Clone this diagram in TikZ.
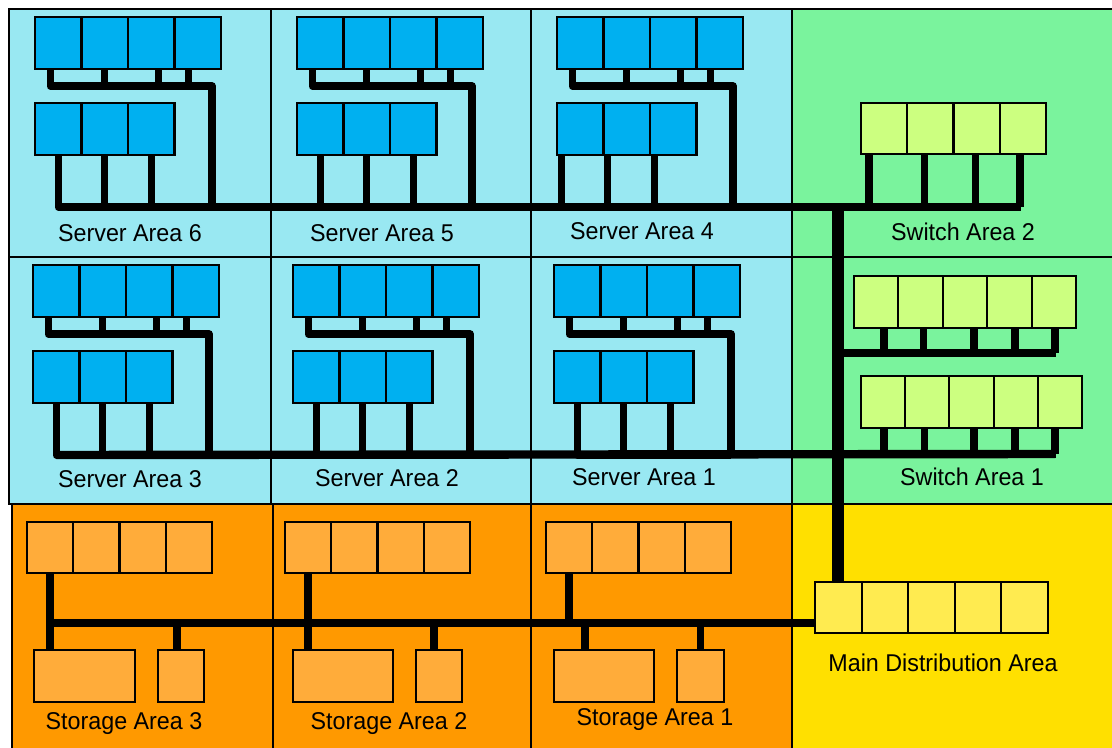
\documentclass[tikz,border=0pt]{standalone}
\usepackage{fontspec}
\setmainfont{Liberation Sans}[FakeStretch=0.96]
\usetikzlibrary{calc}
\definecolor{srvbg}{RGB}{153,232,242}
\definecolor{srvbox}{RGB}{0,176,240}
\definecolor{swbg}{RGB}{122,243,157}
\definecolor{swbox}{RGB}{204,255,128}
\definecolor{stbg}{RGB}{255,153,0}
\definecolor{stbox}{RGB}{255,172,58}
\definecolor{mdabg}{RGB}{255,224,0}
\definecolor{mdabox}{RGB}{255,235,80}
\tikzset{
  zone/.style={draw=black, line width=1.3pt},
  cell/.style={draw=black, line width=1.6pt, inner sep=0pt, outer sep=0pt},
  wire/.style={line width=5.6pt, line join=round},
  bus/.style={line width=6.3pt, line join=round},
  trunk/.style={line width=9pt},
  lbl/.style={font=\fontsize{18.2}{21}\selectfont, inner sep=0pt},
}
\newcommand\rack[7]{%
  \foreach \i in {1,...,#4}{%
    \node[cell, fill=#7, minimum width={#5*0.75pt}, minimum height={#6*0.75pt}] (#1-\i) at ({#2+(\i-0.5)*#5},{#3+#6/2}) {};
  }}
\newcommand\serverarea[8]{%
  \rack{#1t}{#2}{#3}{4}{46.5}{52}{srvbox}
  \rack{#1s}{#2}{#3+86}{3}{46.5}{52}{srvbox}
  \coordinate (#1h) at (#4,#3+69);
  \coordinate (#1b) at (#4,#3+190);
  \draw[wire] ($(#1t-1.south)+(-8,0)$) |- (#1h) -- (#1b);
  \draw[wire] (#1t-2.south) |- (#1h);
  \draw[wire] ($(#1t-3.south)+(7,0)$) |- (#1h);
  \draw[wire] ($(#1t-4.south)+(-9,0)$) |- (#1h);
  \foreach \k in {1,2,3}{\draw[wire] ($(#1s-\k.south)+(#5,0)$) |- (#1b);}
  \node[lbl] (#1l) at (#6,#7) {#8};
}
\begin{document}
\begin{tikzpicture}[x=0.75pt,y=-0.75pt]
\useasboundingbox (0,0) rectangle (1112,748);
\clip (0,0) rectangle (1112,748);
% zones
\filldraw[zone, fill=srvbg] (9,9) rectangle (271,257);
\filldraw[zone, fill=srvbg] (271,9) rectangle (531,257);
\filldraw[zone, fill=srvbg] (531,9) rectangle (792,257);
\filldraw[zone, fill=srvbg] (9,257) rectangle (271,504);
\filldraw[zone, fill=srvbg] (271,257) rectangle (531,504);
\filldraw[zone, fill=srvbg] (531,257) rectangle (792,504);
\filldraw[zone, fill=swbg] (792,9) rectangle (1130,257);
\filldraw[zone, fill=swbg] (792,257) rectangle (1130,504);
\filldraw[zone, fill=stbg] (12,504) rectangle (273,770);
\filldraw[zone, fill=stbg] (273,504) rectangle (531,770);
\filldraw[zone, fill=stbg] (531,504) rectangle (792,770);
\filldraw[zone, fill=mdabg] (792,504) rectangle (1130,770);

% server areas
\serverarea{a6}{35}{17}{212}{0}{130}{233}{Server Area 6}
\serverarea{a5}{297}{17}{472}{0}{382}{233}{Server Area 5}
\serverarea{a4}{557}{17}{733}{-19}{642}{231}{Server Area 4}
\serverarea{a3}{33}{265}{209}{0}{130}{479}{Server Area 3}
\serverarea{a2}{293}{265}{470}{0}{387}{478}{Server Area 2}
\serverarea{a1}{554}{265}{731}{0}{644}{477}{Server Area 1}

% main distribution area
\rack{mda}{815}{582}{5}{46.6}{51}{mdabox}
\node[lbl] (mdal) at (943,663) {Main Distribution Area};

% switch area 2
\rack{w2}{861}{103}{4}{46.25}{51}{swbox}
\coordinate (w2e) at (1020,207);
\draw[wire] ($(w2-1.south)+(-15,0)$) |- (w2e);
\draw[wire] ($(w2-2.south)+(-6,0)$) |- (w2e);
\draw[wire] ($(w2-3.south)+(-1,0)$) |- (w2e);
\draw[wire] ($(w2-4.south)+(-3,0)$) |- (w2e);
\node[lbl] (w2l) at (963,232) {Switch Area 2};

% switch area 1
\rack{w1a}{854}{276}{5}{44.4}{52}{swbox}
\coordinate (w1ae) at (1055,353);
\draw[wire] ($(w1a-1.south)+(8,0)$) |- (w1ae);
\draw[wire] ($(w1a-2.south)+(3,0)$) |- (w1ae);
\draw[wire] ($(w1a-3.south)+(9,0)$) |- (w1ae);
\draw[wire] ($(w1a-4.south)+(5.6,0)$) |- (w1ae);
\draw[wire] ($(w1a-5.south)+(1,0)$) |- (w1ae);
\draw[bus] (mda-1.north |- w1ae) -- (w1ae);
\rack{w1b}{861}{376}{5}{44.2}{52}{swbox}
\coordinate (w1be) at (1055,454);
\draw[wire] ($(w1b-1.south)+(1,0)$) |- (w1be);
\draw[wire] ($(w1b-2.south)+(-3,0)$) |- (w1be);
\draw[wire] ($(w1b-3.south)+(2.5,0)$) |- (w1be);
\draw[wire] ($(w1b-4.south)+(-0.7,0)$) |- (w1be);
\draw[wire] ($(w1b-5.south)+(-5,0)$) |- (w1be);
\node[lbl] (w1l) at (972,477) {Switch Area 1};

% backbone buses
\draw[bus] (a6s-1.south |- a6b) -- (w2e);
\draw[bus] (a3s-1.south |- a3b) -- (w1be);
\draw[trunk] (mda-1.north) -- (mda-1.north |- a6b);

% storage areas
\coordinate (sbus) at ($(mda-1.south west)+(0,-10)$);
\rack{st3}{27}{522}{4}{46.25}{51}{stbox}
\node[cell, fill=stbox, minimum width={101*0.75pt}, minimum height={52*0.75pt}] (st3big) at (84.5,676) {};
\node[cell, fill=stbox, minimum width={46*0.75pt}, minimum height={52*0.75pt}] (st3sm) at (181,676) {};
\draw[wire] (st3-1.south) -- (st3-1.south |- st3big.north);
\draw[wire] ($(st3sm.north)+(-4,0)$) |- (sbus);
\node[lbl] (st3l) at (124,724) {Storage Area 3};

\rack{st2}{285}{522}{4}{46.25}{51}{stbox}
\node[cell, fill=stbox, minimum width={100*0.75pt}, minimum height={52*0.75pt}] (st2big) at (343,676) {};
\node[cell, fill=stbox, minimum width={46*0.75pt}, minimum height={52*0.75pt}] (st2sm) at (439,676) {};
\draw[wire] (st2-1.south) -- (st2-1.south |- st2big.north);
\draw[wire] ($(st2sm.north)+(-5,0)$) |- (sbus);
\node[lbl] (st2l) at (389,724) {Storage Area 2};

\rack{st1}{546}{522}{4}{46.25}{51}{stbox}
\node[cell, fill=stbox, minimum width={100*0.75pt}, minimum height={52*0.75pt}] (st1big) at (604,676) {};
\node[cell, fill=stbox, minimum width={47*0.75pt}, minimum height={52*0.75pt}] (st1sm) at (700.5,676) {};
\draw[wire] (st1-1.south) |- (sbus);
\draw[wire] ($(st1big.north)+(-19,0)$) |- (sbus);
\draw[wire] (st1sm.north) |- (sbus);
\node[lbl] (st1l) at (655,720) {Storage Area 1};

\draw[bus] (st3-1.south |- sbus) -- (sbus);
\end{tikzpicture}
\end{document}
